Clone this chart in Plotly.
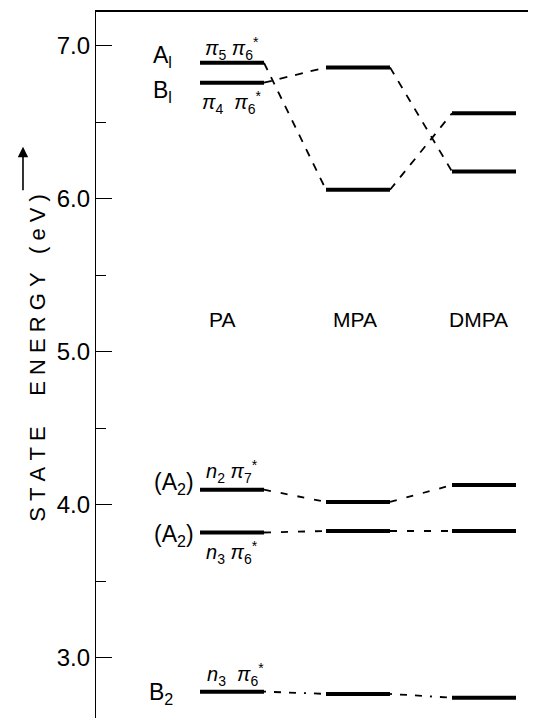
import plotly.graph_objects as go

# ---- data ----
molecules = ["PA", "MPA", "DMPA"]
mol_pos = [1, 2, 3]
A1_pipi = [6.89, 6.06, 6.56]     # A1  pi5 pi6*
B1_pipi = [6.76, 6.86, 6.18]     # B1  pi4 pi6*
A2_n2pi7 = [4.10, 4.02, 4.13]    # (A2) n2 pi7*
A2_n3pi6 = [3.82, 3.83, 3.83]    # (A2) n3 pi6*
B2_n3pi6 = [2.78, 2.765, 2.74]   # B2  n3 pi6*
y_ticks = [3.0, 4.0, 5.0, 6.0, 7.0]
y_tick_labels = ["3.0", "4.0", "5.0", "6.0", "7.0"]

HALF = 0.254
FONT = "Liberation Sans, DejaVu Sans, sans-serif"
NB = "\u00a0"

fig = go.Figure()

def add_state(values, dash, conn_width=1.8):
    cx, cy = [], []
    for i in range(len(values) - 1):
        cx += [mol_pos[i] + HALF, mol_pos[i + 1] - HALF, None]
        cy += [values[i], values[i + 1], None]
    fig.add_trace(go.Scatter(x=cx, y=cy, mode="lines",
                             line=dict(color="black", width=conn_width, dash=dash),
                             hoverinfo="skip", showlegend=False))
    lx, ly = [], []
    for p, v in zip(mol_pos, values):
        lx += [p - HALF, p + HALF, None]
        ly += [v, v, None]
    fig.add_trace(go.Scatter(x=lx, y=ly, mode="lines",
                             line=dict(color="black", width=4),
                             hoverinfo="skip", showlegend=False))

add_state(A1_pipi, "8px,8px")
add_state(B1_pipi, "8px,8px")
add_state(A2_n2pi7, "7px,10px")
add_state(A2_n3pi6, "7px,10px")
add_state(B2_n3pi6, "2px,8px,7px,8px,7px,8px")

def ann(x, y, text, size=20, xanchor="center", yanchor="middle"):
    fig.add_annotation(x=x, y=y, xref="x", yref="y", text=text, showarrow=False,
                       font=dict(family=FONT, size=size, color="black"),
                       xanchor=xanchor, yanchor=yanchor)

# molecule names
for x, m in zip([0.92, 1.98, 2.96], molecules):
    ann(x, 5.21, m, size=21)

P = "<i>π</i>"
N = "<i>n</i>"
ann(0.45, 6.93, "A<sub>l</sub>", size=23)
ann(0.45, 6.70, "B<sub>l</sub>", size=23)
ann(1.0, 6.985, P + "<sub>5</sub> " + P + "<sub>6</sub><sup>*</sup>", size=20)
ann(1.0, 6.63, P + "<sub>4</sub>" + NB + " " + P + "<sub>6</sub><sup>*</sup>", size=20)

ann(0.54, 4.14, "(A<sub>2</sub>)", size=23)
ann(1.0, 4.22, N + "<sub>2</sub> " + P + "<sub>7</sub><sup>*</sup>", size=20)
ann(0.54, 3.80, "(A<sub>2</sub>)", size=23)
ann(1.0, 3.69, N + "<sub>3</sub> " + P + "<sub>6</sub><sup>*</sup>", size=20)

ann(0.44, 2.77, "B<sub>2</sub>", size=23)
ann(1.03, 2.89, N + "<sub>3</sub>" + NB + NB + P + "<sub>6</sub><sup>*</sup>", size=20)

# axis title, rotated, with an upward arrow above it
title = NB.join("STATE") + NB * 5 + NB.join("ENERGY") + NB * 3 + NB.join("(eV)")
fig.add_annotation(x=-0.169, y=0.511, xref="paper", yref="paper",
                   text=title, textangle=-90, showarrow=False,
                   font=dict(family=FONT, size=22, color="black"))
fig.add_annotation(x=-0.169, y=0.809, xref="paper", yref="paper",
                   text="", showarrow=True, ax=0, ay=45,
                   arrowhead=2, arrowsize=1.3, arrowwidth=1.6, arrowcolor="black")

fig.update_layout(
    width=520, height=710,
    margin=dict(l=88, r=0, t=4, b=0),
    paper_bgcolor="white", plot_bgcolor="white",
    xaxis=dict(range=[1 - 136 / 126, 1 + 296 / 126], showgrid=False, zeroline=False,
               showticklabels=False, ticks="", showline=True, side="top",
               linecolor="black", linewidth=2, fixedrange=True),
    yaxis=dict(range=[7.222 - 706 / 153, 7.222], showgrid=False, zeroline=False,
               tickvals=y_ticks, ticktext=y_tick_labels, ticks="inside",
               ticklen=16, tickwidth=1.3, tickcolor="black",
               showline=True, linecolor="black", linewidth=1.3,
               tickfont=dict(family=FONT, size=24, color="black"),
               minor=dict(dtick=0.5, ticks="inside", ticklen=10, tickwidth=1.3,
                          tickcolor="black", showgrid=False),
               fixedrange=True),
)

fig.write_html("out.html")
